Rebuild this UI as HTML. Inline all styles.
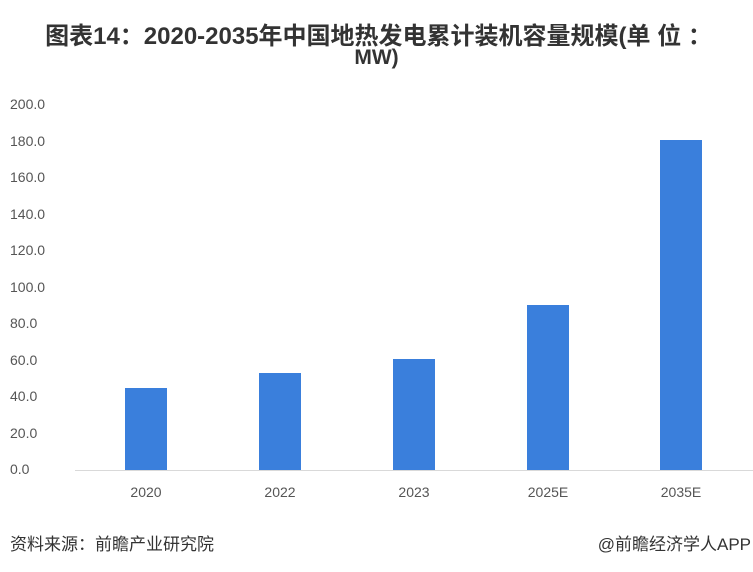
<!DOCTYPE html>
<html><head><meta charset="utf-8"><style>
body{margin:0;width:753px;height:572px;background:#fff;position:relative;font-family:"Liberation Sans","Noto Sans CJK SC",sans-serif;overflow:hidden}
.t{position:absolute;left:0;width:753px;text-align:center;font-weight:bold;font-size:24px;color:#333;white-space:nowrap}
.y{position:absolute;left:10px;width:48px;font-size:14px;color:#555}
.b{position:absolute;background:#3a7fdc;width:42px}
.x{position:absolute;top:484px;width:80px;text-align:center;font-size:14px;color:#555}
.f{position:absolute;top:530px;font-size:17px;color:#333}
</style></head><body>
<div class="t" style="top:16px;left:2px">图表14：2020-2035年中国地热发电累计装机容量规模(单 位 ：</div>
<div class="t" style="top:46px;font-size:21px">MW)</div>
<div class="y" style="top:96px">200.0</div>
<div class="y" style="top:133px">180.0</div>
<div class="y" style="top:169px">160.0</div>
<div class="y" style="top:206px">140.0</div>
<div class="y" style="top:242px">120.0</div>
<div class="y" style="top:279px">100.0</div>
<div class="y" style="top:315px">80.0</div>
<div class="y" style="top:352px">60.0</div>
<div class="y" style="top:388px">40.0</div>
<div class="y" style="top:425px">20.0</div>
<div class="y" style="top:461px">0.0</div>
<div style="position:absolute;left:75px;top:470px;width:678px;height:1px;background:#d9d9d9"></div>
<div class="b" style="left:125px;top:388px;height:82px"></div>
<div class="b" style="left:259px;top:373px;height:97px"></div>
<div class="b" style="left:393px;top:359px;height:111px"></div>
<div class="b" style="left:527px;top:305px;height:165px"></div>
<div class="b" style="left:660px;top:140px;height:330px"></div>
<div class="x" style="left:106px">2020</div>
<div class="x" style="left:240px">2022</div>
<div class="x" style="left:374px">2023</div>
<div class="x" style="left:508px">2025E</div>
<div class="x" style="left:641px">2035E</div>
<div class="f" style="left:10px">资料来源：前瞻产业研究院</div>
<div class="f" style="right:2px">@前瞻经济学人APP</div>
</body></html>
